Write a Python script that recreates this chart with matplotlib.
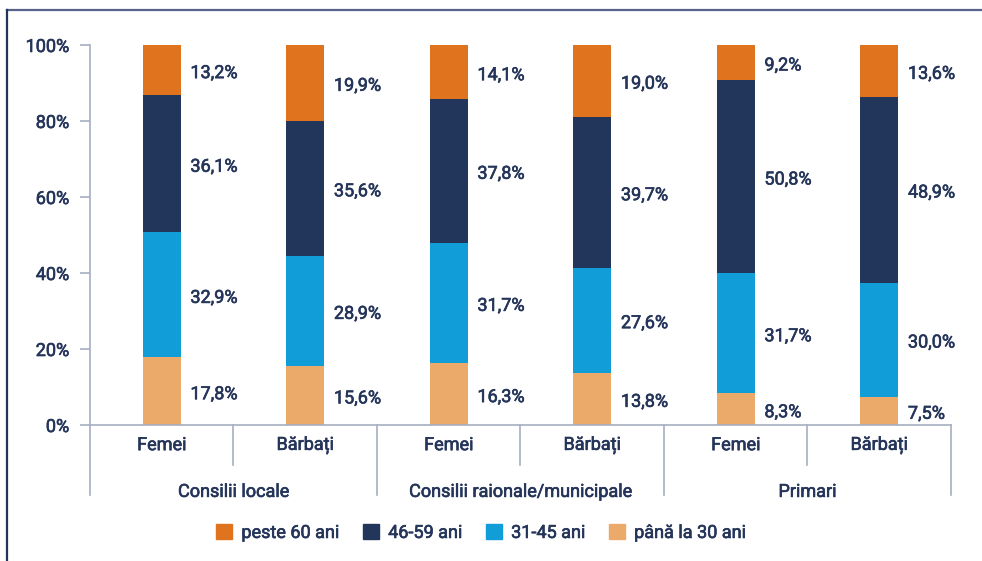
import matplotlib
matplotlib.use('Agg')
import matplotlib.pyplot as plt
from matplotlib.lines import Line2D
from matplotlib.patches import Patch
import matplotlib.transforms as mtransforms
import matplotlib.patheffects as pe

plt.rcParams['font.family'] = ['Roboto', 'DejaVu Sans']

# data
sub_labels = ['Femei', 'Bărbați', 'Femei', 'Bărbați', 'Femei', 'Bărbați']
group_labels = ['Consilii locale', 'Consilii raionale/municipale', 'Primari']
series_names = ['până la 30 ani', '31-45 ani', '46-59 ani', 'peste 60 ani']
pana_30 = [17.8, 15.6, 16.3, 13.8, 8.3, 7.5]
ani_31_45 = [32.9, 28.9, 31.7, 27.6, 31.7, 30.0]
ani_46_59 = [36.1, 35.6, 37.8, 39.7, 50.8, 48.9]
peste_60 = [13.2, 19.9, 14.1, 19.0, 9.2, 13.6]
colors = ['#EBAA6A', '#119DD8', '#22355B', '#E0731E']

txt = '#25355A'
grid_c = '#A6AEC0'
fs = 13
# fake a medium weight with a thin stroke
medium = [pe.withStroke(linewidth=0.45, foreground=txt)]

fig = plt.figure(figsize=(9.82, 5.61), dpi=100)
ax = fig.add_axes([0.0916, 0.2424, 0.8768, 0.6774])

series = [pana_30, ani_31_45, ani_46_59, peste_60]
x = list(range(len(sub_labels)))
bottoms = [0.0] * len(x)
for vals, col in zip(series, colors):
    ax.bar(x, vals, width=0.265, bottom=bottoms, color=col, zorder=2)
    for i, v in enumerate(vals):
        mid = bottoms[i] + v / 2
        ax.text(i + 0.2, mid - 0.8, f'{v:.1f}%'.replace('.', ','), ha='left', va='center',
                fontsize=fs, color=txt, path_effects=medium)
    bottoms = [b + v for b, v in zip(bottoms, vals)]

ax.set_xlim(-0.5, 5.5)
ax.set_ylim(0, 100)
ax.set_yticks([0, 20, 40, 60, 80, 100])
ax.set_yticklabels(['0%', '20%', '40%', '60%', '80%', '100%'])
ax.tick_params(axis='y', colors=grid_c, labelcolor=txt, labelsize=fs, length=7, width=1.2, pad=8)
for lab in ax.get_yticklabels():
    lab.set_path_effects(medium)
ax.set_xticks([])
for s in ['top', 'right']:
    ax.spines[s].set_visible(False)
ax.spines['left'].set_color(grid_c)
ax.spines['left'].set_linewidth(1.2)
ax.spines['bottom'].set_color(grid_c)
ax.spines['bottom'].set_linewidth(1.2)

trans = mtransforms.blended_transform_factory(ax.transData, ax.transAxes)
for xs in [0.5, 2.5, 4.5]:
    ax.plot([xs, xs], [0, -0.105], transform=trans, color=grid_c, lw=1.2, clip_on=False)
for xs in [-0.5, 1.5, 3.5, 5.5]:
    ax.plot([xs, xs], [0, -0.184], transform=trans, color=grid_c, lw=1.2, clip_on=False)
for i, lab in enumerate(sub_labels):
    ax.text(i, -0.053, lab, transform=trans, ha='center', va='center',
            fontsize=fs, color=txt, path_effects=medium)
for g, lab in enumerate(group_labels):
    ax.text(2 * g + 0.5, -0.176, lab, transform=trans, ha='center', va='center',
            fontsize=fs, color=txt, path_effects=medium)

handles = [Patch(color=colors[k]) for k in [3, 2, 1, 0]]
names = [series_names[k] for k in [3, 2, 1, 0]]
leg = fig.legend(handles, names, loc='center', bbox_to_anchor=(0.49, 0.05), ncol=4,
                 frameon=False, fontsize=fs, handlelength=0.9, handleheight=0.9,
                 handletextpad=0.5, columnspacing=1.3)
for t in leg.get_texts():
    t.set_color(txt)
    t.set_path_effects(medium)

# outer frame
fig.add_artist(Line2D([0.007, 1.0], [0.982, 0.982], color='#56648A', lw=1.6))
fig.add_artist(Line2D([0.007, 0.007], [0.0, 0.982], color='#22355B', lw=1.6))

fig.savefig('out.png', dpi=100)
